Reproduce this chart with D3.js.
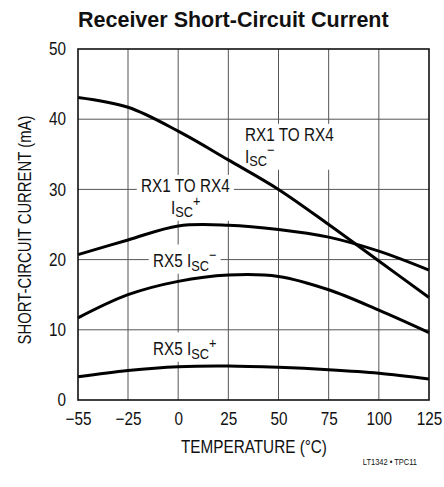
<!DOCTYPE html>
<html>
<head>
<meta charset="utf-8">
<script src="https://cdn.jsdelivr.net/npm/d3@7"></script>
<style>
body{margin:0;background:#fff;}
svg text{font-family:"Liberation Sans",Arial,sans-serif;fill:#111;}
</style>
</head>
<body>
<div id="chart"></div>
<script>
// temperature points (°C)
var temps = [-55, -25, 0, 25, 50, 75, 100, 125];
// short-circuit current (mA)
var rx14Minus = [43.1, 41.7, 38.3, 34.2, 30.0, 25.0, 19.8, 14.6];
var rx14Plus  = [20.7, 22.8, 24.8, 24.9, 24.3, 23.2, 21.2, 18.5];
var rx5Minus  = [11.7, 15.0, 16.9, 17.8, 17.6, 15.7, 12.8, 9.6];
var rx5Plus   = [3.3, 4.2, 4.75, 4.85, 4.65, 4.3, 3.8, 3.0];
var xTicks = [-55, -25, 0, 25, 50, 75, 100, 125];
var yTicks = [0, 10, 20, 30, 40, 50];

var W = 444, H = 487;
var pLeft = 78, pRight = 429, pTop = 49, pBottom = 400;
var sx = 0.85; // squeeze text to look like the condensed datasheet font

var svg = d3.select('#chart').append('svg')
	.attr('width', W).attr('height', H);

// the datasheet stretches -55..-25 to the same width as one 25° step
var x = d3.scaleLinear().domain([-55, -25, 125]).range([pLeft, pLeft + 50, pRight]);
var y = d3.scaleLinear().domain([0, 50]).range([pBottom, pTop]);

// grid
svg.append('g').selectAll('line').data(xTicks.slice(1, -1)).enter().append('line')
	.attr('x1', function(d){ return x(d); }).attr('x2', function(d){ return x(d); })
	.attr('y1', pTop).attr('y2', pBottom)
	.attr('stroke', '#555').attr('stroke-width', 1);
svg.append('g').selectAll('line').data(yTicks.slice(1, -1)).enter().append('line')
	.attr('x1', pLeft).attr('x2', pRight)
	.attr('y1', function(d){ return y(d); }).attr('y2', function(d){ return y(d); })
	.attr('stroke', '#555').attr('stroke-width', 1);

// axes tick labels
var xAxis = svg.append('g').attr('transform', 'translate(0,' + pBottom + ')')
	.call(d3.axisBottom(x).tickValues(xTicks).tickSize(0).tickPadding(12)
		.tickFormat(function(d){ return d < 0 ? '\u2212' + (-d) : d; }));
xAxis.select('.domain').remove();
xAxis.selectAll('text').attr('font-size', 18).attr('font-family', null).attr('fill', '#111')
	.attr('transform', 'scale(' + sx + ',1)');

var yAxis = svg.append('g').attr('transform', 'translate(' + pLeft + ',0)')
	.call(d3.axisLeft(y).tickValues(yTicks).tickSize(0));
yAxis.select('.domain').remove();
yAxis.selectAll('text').attr('font-size', 18).attr('font-family', null).attr('fill', '#111')
	.attr('x', -12 / sx).attr('transform', 'scale(' + sx + ',1)');

// curve labels with white boxes (under the curves, over the grid)
function isc(t, sign){
	t.append('tspan').text('I');
	t.append('tspan').attr('font-size', 15).attr('dy', 3.5).text('SC');
	t.append('tspan').attr('font-size', 15).attr('dy', -11).text(sign);
}
function label(px, py, lines){
	var g = svg.append('g').attr('transform', 'translate(' + px + ',' + py + ') scale(' + sx + ',1)');
	var rect = g.append('rect').attr('fill', '#fff');
	lines.forEach(function(l, i){
		var t = g.append('text').attr('x', (l.dx || 0) / sx).attr('y', i * 22)
			.attr('font-size', 18);
		l.draw(t);
	});
	var b = g.node().getBBox();
	rect.attr('x', b.x - 5).attr('y', b.y - 1).attr('width', b.width + 10).attr('height', b.height + 1);
}
label(245, 141, [
	{draw: function(t){ t.text('RX1 TO RX4'); }},
	{draw: function(t){ isc(t, '\u2212'); }}
]);
label(141, 192, [
	{draw: function(t){ t.text('RX1 TO RX4'); }},
	{dx: 30, draw: function(t){ isc(t, '+'); }}
]);
label(153, 267, [
	{draw: function(t){ t.text('RX5 '); isc(t, '\u2212'); }}
]);
label(153, 355, [
	{draw: function(t){ t.text('RX5 '); isc(t, '+'); }}
]);

// curves
var line = d3.line()
	.x(function(d){ return x(d[0]); })
	.y(function(d){ return y(d[1]); })
	.curve(d3.curveCatmullRom.alpha(0.5));
[rx14Minus, rx14Plus, rx5Minus, rx5Plus].forEach(function(s){
	svg.append('path')
		.datum(temps.map(function(t, i){ return [t, s[i]]; }))
		.attr('d', line)
		.attr('fill', 'none').attr('stroke', '#000').attr('stroke-width', 3);
});

// frame
svg.append('rect')
	.attr('x', pLeft).attr('y', pTop).attr('width', pRight - pLeft).attr('height', pBottom - pTop)
	.attr('fill', 'none').attr('stroke', '#111').attr('stroke-width', 1.6);

// titles
svg.append('text').attr('x', 78).attr('y', 27)
	.attr('font-size', 21.5).attr('font-weight', 'bold')
	.text('Receiver Short-Circuit Current');
svg.append('text').attr('transform', 'translate(254,453) scale(' + sx + ',1)')
	.attr('text-anchor', 'middle').attr('font-size', 18).text('TEMPERATURE (\u00B0C)');
svg.append('text').attr('transform', 'translate(31,230) rotate(-90) scale(' + sx + ',1)')
	.attr('text-anchor', 'middle').attr('font-size', 17.5)
	.text('SHORT-CIRCUIT CURRENT (mA)');
svg.append('text').attr('transform', 'translate(417,465) scale(0.88,1)').attr('text-anchor', 'end')
	.attr('font-size', 8.5).text('LT1342 \u2022 TPC11');
</script>
</body>
</html>
